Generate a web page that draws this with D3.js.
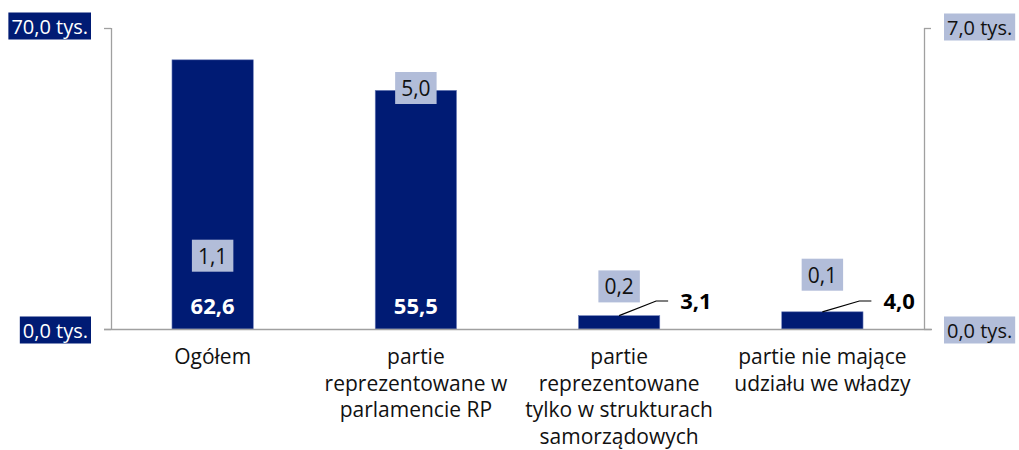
<!DOCTYPE html>
<html>
<head>
<meta charset="utf-8">
<script src="https://cdn.jsdelivr.net/npm/d3@7"></script>
<style>
  html, body { margin: 0; padding: 0; background: #fff; }
  svg { display: block; font-family: "Open Sans", "Noto Sans", sans-serif; }
</style>
</head>
<body>
<svg id="chart" width="1019" height="450"></svg>
<script>
// ---- data ----
const categories = [
  "Ogółem",
  "partie\nreprezentowane w\nparlamencie RP",
  "partie\nreprezentowane\ntylko w strukturach\nsamorządowych",
  "partie nie mające\nudziału we władzy"
];
const primaryValues = [62.6, 55.5, 3.1, 4.0];      // left axis, thousands
const secondaryValues = [1.1, 5.0, 0.2, 0.1];      // right axis, thousands
const leftTicks = [0, 70];
const rightTicks = [0, 7];
const leftTickLabels = ["0,0 tys.", "70,0 tys."];
const rightTickLabels = ["0,0 tys.", "7,0 tys."];

// ---- layout ----
const NAVY = "#001b74";
const LIGHT = "#b2bdd9";
const AXIS = "#a0a0a0";
const plot = { left: 111, right: 924, top: 28, bottom: 329 };
const fmt = v => v.toFixed(1).replace(".", ",");

const svg = d3.select("#chart");

const x = d3.scaleBand().domain(categories).range([plot.left, plot.right]).padding(0);
const yL = d3.scaleLinear().domain([0, 70]).range([plot.bottom, plot.top]);
const yR = d3.scaleLinear().domain([0, 7]).range([plot.bottom, plot.top]);
const barW = x.bandwidth() * 0.4;

// axes (ticks only; axis lines drawn below)
const axL = svg.append("g").attr("transform", `translate(${plot.left},0)`)
  .call(d3.axisLeft(yL).tickValues(leftTicks).tickSize(7).tickFormat(""));
const axR = svg.append("g").attr("transform", `translate(${plot.right},0)`)
  .call(d3.axisRight(yR).tickValues(rightTicks).tickSize(7).tickFormat(""));
[axL, axR].forEach(g => {
  g.selectAll(".tick line").attr("stroke", AXIS).attr("stroke-width", 1.3);
  g.select(".domain").remove();
});
svg.append("line").attr("x1", plot.left + 0.5).attr("x2", plot.left + 0.5)
  .attr("y1", yL(70)).attr("y2", yL(0)).attr("stroke", AXIS).attr("stroke-width", 1.3);
svg.append("line").attr("x1", plot.right + 0.5).attr("x2", plot.right + 0.5)
  .attr("y1", yR(7)).attr("y2", yR(0)).attr("stroke", AXIS).attr("stroke-width", 1.3);

// bars
svg.append("g").selectAll("rect").data(primaryValues).join("rect")
  .attr("x", (d, i) => x(categories[i]) + (x.bandwidth() - barW) / 2)
  .attr("width", barW)
  .attr("y", d => yL(d))
  .attr("height", d => yL(0) - yL(d))
  .attr("fill", NAVY)
  .attr("stroke", "#6d7fb8").attr("stroke-width", 0.6);

// baseline
svg.append("line").attr("x1", plot.left - 7).attr("x2", plot.right + 8)
  .attr("y1", yL(0) + 0.5).attr("y2", yL(0) + 0.5)
  .attr("stroke", AXIS).attr("stroke-width", 1.5);

function boxLabel(g, text, xPos, yPos, anchor, bg, fg, size, padX, padY, bold) {
  const t = g.append("text").text(text)
    .attr("x", xPos).attr("y", yPos)
    .attr("text-anchor", anchor).attr("dominant-baseline", "central")
    .attr("font-size", size).attr("fill", fg)
    .attr("font-weight", bold ? "bold" : "normal");
  const b = t.node().getBBox();
  g.insert("rect", () => t.node())
    .attr("x", b.x - padX).attr("y", b.y - padY)
    .attr("width", b.width + 2 * padX).attr("height", b.height + 2 * padY)
    .attr("fill", bg);
  return t;
}
const gAxisLab = svg.append("g");
leftTicks.forEach((v, i) => {
  boxLabel(gAxisLab, leftTickLabels[i], 88, yL(v) + (v === 0 ? 1 : -2), "end", NAVY, "#fff", 20, 3, 0);
});
rightTicks.forEach((v, i) => {
  boxLabel(gAxisLab, rightTickLabels[i], 947, yR(v) + (v === 0 ? 1 : -1), "start", LIGHT, "#111", 20, 3, 0);
});

// primary value labels
const gVal = svg.append("g");
primaryValues.forEach((v, i) => {
  const cx = x(categories[i]) + x.bandwidth() / 2;
  if (yL(0) - yL(v) > 60) {
    gVal.append("text").text(fmt(v))
      .attr("x", cx).attr("y", yL(0) - 24)
      .attr("text-anchor", "middle").attr("dominant-baseline", "central")
      .attr("font-size", 22).attr("font-weight", "bold").attr("fill", "#fff");
  } else {
    const ly = yL(0) - 28;
    const top = yL(v);
    gVal.append("polyline")
      .attr("points", [[cx, top], [cx + 37, ly], [cx + 49, ly]].map(p => p.join(",")).join(" "))
      .attr("fill", "none").attr("stroke", "#000").attr("stroke-width", 1.2);
    gVal.append("text").text(fmt(v))
      .attr("x", cx + 61).attr("y", ly - 1)
      .attr("text-anchor", "start").attr("dominant-baseline", "central")
      .attr("font-size", 22).attr("font-weight", "bold").attr("fill", "#000");
  }
});

// secondary value labels (boxed), nudged like the source
const secNudge = [0, 0, -8, -24];
const gSec = svg.append("g");
secondaryValues.forEach((v, i) => {
  const cx = x(categories[i]) + x.bandwidth() / 2;
  boxLabel(gSec, fmt(v), cx, yR(v) - 26 + secNudge[i], "middle", LIGHT, "#111", 21, 6, 2);
});

// category labels
const gCat = svg.append("g");
categories.forEach((c, i) => {
  const cx = x(c) + x.bandwidth() / 2;
  const t = gCat.append("text").attr("text-anchor", "middle")
    .attr("font-size", 21).attr("fill", "#111");
  c.split("\n").forEach((line, j) => {
    t.append("tspan").attr("x", cx).attr("y", 364 + j * 26.5).text(line);
  });
});
</script>
</body>
</html>
